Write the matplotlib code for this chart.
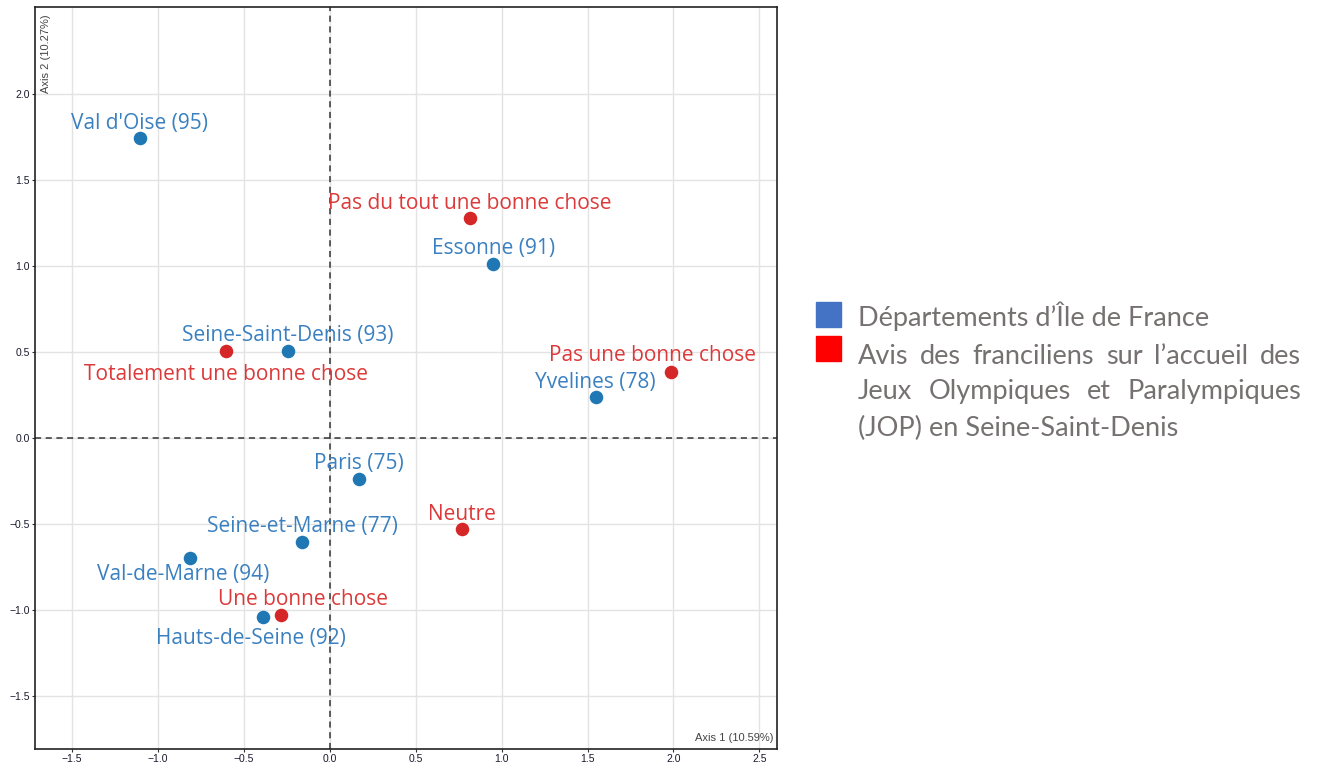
import matplotlib
matplotlib.use("Agg")
import matplotlib.pyplot as plt
from matplotlib.patches import Rectangle

# ---- data ----
dept_names = [
    "Val d'Oise (95)", "Essonne (91)", "Seine-Saint-Denis (93)", "Yvelines (78)",
    "Paris (75)", "Seine-et-Marne (77)", "Val-de-Marne (94)", "Hauts-de-Seine (92)",
]
dept_x = [-1.103, 0.951, -0.244, 1.548, 0.172, -0.159, -0.814, -0.390]
dept_y = [1.740, 1.009, 0.505, 0.234, -0.241, -0.606, -0.701, -1.042]

avis_names = [
    "Pas du tout une bonne chose", "Totalement une bonne chose",
    "Pas une bonne chose", "Neutre", "Une bonne chose",
]
avis_x = [0.816, -0.605, 1.984, 0.771, -0.285]
avis_y = [1.274, 0.505, 0.383, -0.534, -1.030]

axis1_label = "Axis 1 (10.59%)"
axis2_label = "Axis 2 (10.27%)"
legend_dept = "Départements d\u2019Île de France"
legend_avis_lines = [
    "Avis des franciliens sur l\u2019accueil des",
    "Jeux Olympiques et Paralympiques",
    "(JOP) en Seine-Saint-Denis",
]

# label offsets in points (dx, dy) relative to each marker
dept_offsets = [(0, 10.8), (0, 10.8), (0, 10.8), (0, 10.8), (0, 10.8), (0, 10.8),
                (-4.5, -12), (-8, -16)]
avis_offsets = [(0, 10.8), (0, -17), (-13, 11.8), (0, 10.8), (16, 10.8)]

BLUE = "#1f77b4"
RED = "#d62728"
BLUE_TXT = "#3a80c0"
RED_TXT = "#dc3a3a"

fig = plt.figure(figsize=(13.2, 7.65), dpi=100)
ax = fig.add_axes([35 / 1320, 16 / 765, 742 / 1320, 742 / 765])

ax.set_xlim(-1.713, 2.602)
ax.set_ylim(-1.811, 2.503)
ax.set_xticks([-1.5, -1.0, -0.5, 0.0, 0.5, 1.0, 1.5, 2.0, 2.5])
ax.set_yticks([-1.5, -1.0, -0.5, 0.0, 0.5, 1.0, 1.5, 2.0])
ax.grid(True, color="#e3e3e3", linewidth=1.0)
ax.set_axisbelow(True)
ax.tick_params(labelsize=7.5, length=2, pad=1.5, colors="#333333", labelcolor="#1a1a2e")
for lab in ax.get_xticklabels() + ax.get_yticklabels():
    lab.set_family("Liberation Sans")
for s in ax.spines.values():
    s.set_color("#222222")
    s.set_linewidth(1.2)

ax.axvline(0, color="#333333", linestyle=(0, (4, 3)), linewidth=1.1, zorder=1)
ax.axhline(0, color="#333333", linestyle=(0, (4, 3)), linewidth=1.1, zorder=1)

ax.scatter(dept_x, dept_y, s=95, color=BLUE, zorder=3, linewidths=0)
ax.scatter(avis_x, avis_y, s=95, color=RED, zorder=3, linewidths=0)

for name, x, y, off in zip(dept_names, dept_x, dept_y, dept_offsets):
    ax.annotate(name, (x, y), xytext=off, textcoords="offset points",
                ha="center", va="center", fontsize=15, color=BLUE_TXT,
                family="Open Sans", zorder=4)
for name, x, y, off in zip(avis_names, avis_x, avis_y, avis_offsets):
    ax.annotate(name, (x, y), xytext=off, textcoords="offset points",
                ha="center", va="center", fontsize=15, color=RED_TXT,
                family="Open Sans", zorder=4)

ax.text(0.995, 0.008, axis1_label, transform=ax.transAxes, ha="right", va="bottom",
        fontsize=8, color="#444444", family="Liberation Sans")
ax.text(0.008, 0.99, axis2_label, transform=ax.transAxes, ha="left", va="top",
        rotation=90, fontsize=8, color="#444444", family="Liberation Sans")

# ---- legend on the right ----
W, H = 1320, 765
LEG_COLOR = "#767171"
LEG_FONT = "Lato"
LEG_SIZE = 19.5

fig.patches.append(Rectangle((816 / W, 1 - 327 / H), 25 / W, 25 / H,
                             transform=fig.transFigure, color="#4472c4"))
fig.patches.append(Rectangle((816 / W, 1 - 361 / H), 25 / W, 25 / H,
                             transform=fig.transFigure, color="#ff0000"))

fig.text(858 / W, 1 - 316 / H, legend_dept, ha="left", va="center",
         fontsize=LEG_SIZE, color=LEG_COLOR, family=LEG_FONT)

renderer = fig.canvas.get_renderer()
line_y = [356, 392, 428]
x_left, x_right = 858, 1301
for i, (line, yy) in enumerate(zip(legend_avis_lines, line_y)):
    words = line.split(" ")
    if i == len(legend_avis_lines) - 1:
        fig.text(x_left / W, 1 - yy / H, line, ha="left", va="center",
                 fontsize=LEG_SIZE, color=LEG_COLOR, family=LEG_FONT)
        continue
    texts = [fig.text(0, 1 - yy / H, w, ha="left", va="center",
                      fontsize=LEG_SIZE, color=LEG_COLOR, family=LEG_FONT)
             for w in words]
    widths = [t.get_window_extent(renderer).width for t in texts]
    gap = (x_right - x_left - sum(widths)) / (len(words) - 1)
    xpos = x_left
    for t, wdt in zip(texts, widths):
        t.set_x(xpos / W)
        xpos += wdt + gap

fig.savefig("out.png", dpi=100)
